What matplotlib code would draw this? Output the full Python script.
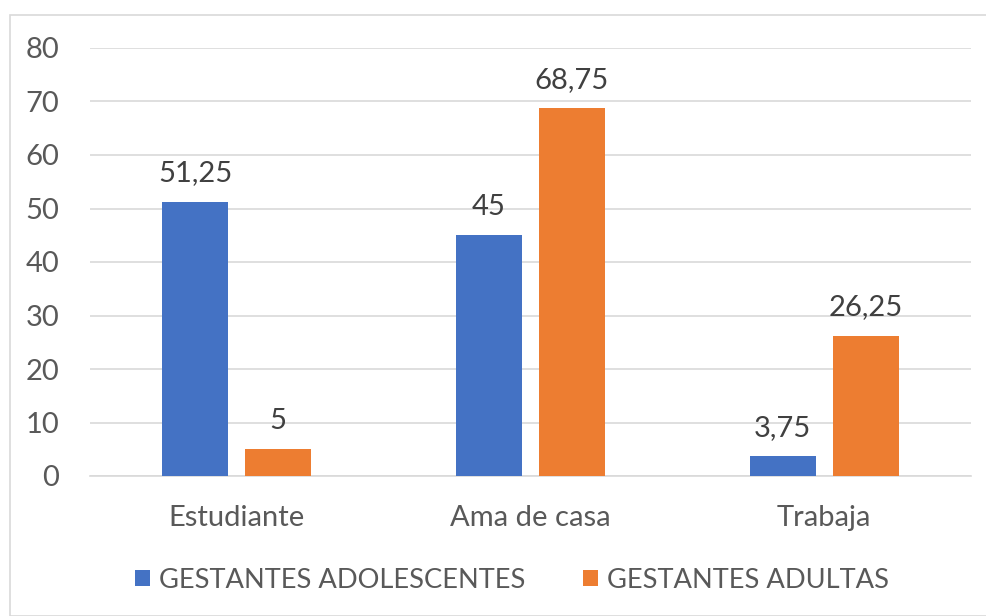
import matplotlib.pyplot as plt
import numpy as np
from matplotlib.patches import Rectangle

categories = ['Estudiante', 'Ama de casa', 'Trabaja']
adolescentes = [51.25, 45, 3.75]
adultas = [5, 68.75, 26.25]
labels_adol = ['51,25', '45', '3,75']
labels_adul = ['5', '68,75', '26,25']
series_names = ['GESTANTES ADOLESCENTES', 'GESTANTES ADULTAS']

plt.rcParams['font.family'] = ['Lato', 'DejaVu Sans']
txt = '#595959'
blue = '#4472C4'
orange = '#ED7D31'
fs = 21

fig = plt.figure(figsize=(9.87, 6.16), dpi=100)
fig.patches.append(Rectangle((10/987, 0), 1.2, 1 - 15/616, transform=fig.transFigure,
                             fill=False, edgecolor='#d9d9d9', linewidth=1.2))
ax = fig.add_axes([90/987, 1 - 476/616, 881/987, 428/616])

x = np.arange(len(categories))
w = 0.225
off = 0.141
b1 = ax.bar(x - off, adolescentes, w, color=blue, label=series_names[0], zorder=3)
b2 = ax.bar(x + off, adultas, w, color=orange, label=series_names[1], zorder=3)
ax.bar_label(b1, labels=labels_adol, padding=11, fontsize=fs, color='#404040')
ax.bar_label(b2, labels=labels_adul, padding=11, fontsize=fs, color='#404040')

ax.set_xlim(-0.5, 2.5)
ax.set_ylim(0, 80)
ax.set_yticks(range(0, 81, 10))
ax.set_xticks(x)
ax.set_xticklabels(categories)
ax.tick_params(axis='both', length=0, labelsize=fs, labelcolor=txt)
ax.tick_params(axis='y', pad=22)
ax.tick_params(axis='x', pad=21)
ax.grid(axis='y', color='#d9d9d9', linewidth=1.2, zorder=0)
for s in ['top', 'right', 'left']:
    ax.spines[s].set_visible(False)
ax.spines['bottom'].set_color('#d9d9d9')
ax.spines['bottom'].set_linewidth(1.2)

leg = fig.legend(loc='center', bbox_to_anchor=(512/987, 1 - 580/616), ncol=2, frameon=False,
                 fontsize=19.6, handlelength=0.55, handleheight=0.55, handletextpad=0.35,
                 columnspacing=2.1)
for t in leg.get_texts():
    t.set_color(txt)

fig.savefig('out.png', dpi=100)
